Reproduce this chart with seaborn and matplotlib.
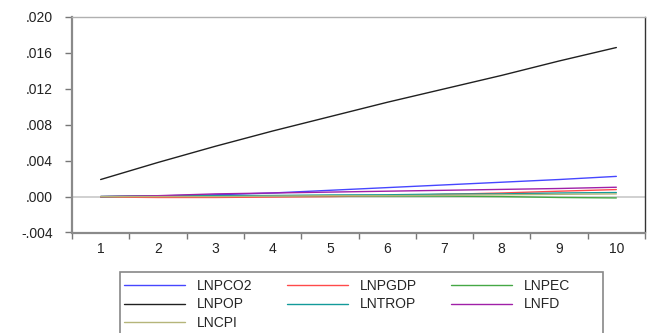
import pandas as pd
import numpy as np
from matplotlib import pyplot as plt
from matplotlib.ticker import FuncFormatter, FixedLocator
from matplotlib.patches import Rectangle
import seaborn as sns

periods = list(range(1, 11))

lnpco2 = [0.0, 0.00008, 0.0002, 0.0004, 0.0007, 0.0010, 0.0013, 0.0016, 0.0019, 0.00225]
lnpgdp = [-0.00005, -0.0001, -0.0001, -0.00005, 0.0, 0.0001, 0.00025, 0.0004, 0.0006, 0.00078]
lnpec = [0.0, 0.00005, 0.0001, 0.0001, 0.0001, 0.00005, 0.00005, 0.0, -0.0001, -0.00015]
lnpop = [0.0019, 0.0038, 0.0056, 0.0073, 0.0089, 0.0105, 0.0120, 0.0135, 0.0151, 0.0166]
lntrop = [0.0, 0.00008, 0.0001, 0.00012, 0.00018, 0.0002, 0.00028, 0.0003, 0.0004, 0.00045]
lnfd = [0.0, 0.0001, 0.0003, 0.0004, 0.0005, 0.0006, 0.0007, 0.0008, 0.0009, 0.00104]
lncpi = [0.0, 0.0, 0.0, 0.00005, 0.0001, 0.0001, 0.00015, 0.0002, 0.00025, 0.0003]

series = {'LNPCO2': lnpco2, 'LNPGDP': lnpgdp, 'LNPEC': lnpec, 'LNPOP': lnpop,
          'LNTROP': lntrop, 'LNFD': lnfd, 'LNCPI': lncpi}
colors = {'LNPCO2': '#4646ff', 'LNPGDP': '#ff4a4a', 'LNPEC': '#45a845', 'LNPOP': '#202020',
          'LNTROP': '#139a9a', 'LNFD': '#a020a8', 'LNCPI': '#b5b57a'}

rows = []
for name, vals in series.items():
    for p, v in zip(periods, vals):
        rows.append((p, v, name))
data_plot = pd.DataFrame(rows, columns=['period', 'value', 'var'])

sns.set_style('white')
plt.rcParams['font.family'] = ['Liberation Sans', 'DejaVu Sans']

fig = plt.figure(figsize=(6.51, 3.33), dpi=100)
ax = fig.add_axes([72 / 651, 1 - 232.5 / 333, (645 - 72) / 651, (232.5 - 17) / 333])

ax.axhline(0, color='#c8c8c8', lw=1.2, zorder=0)
sns.lineplot(data=data_plot, x='period', y='value', hue='var', palette=colors,
             hue_order=list(series.keys()), lw=1.0, ax=ax)

ax.set_xlim(0.5, 10.5)
ax.set_ylim(-0.004, 0.020)
ax.set_yticks(np.arange(-0.004, 0.0201, 0.004))
ax.yaxis.set_major_formatter(FuncFormatter(lambda v, p: ('%.3f' % v).replace('0.', '.', 1)
                                           if abs(v) > 1e-9 else '.000'))
ax.set_xticks(periods)
ax.xaxis.set_minor_locator(FixedLocator(np.arange(0.5, 10.6, 1)))
ax.tick_params(axis='x', which='major', bottom=True, length=0, labelsize=10, pad=7,
               labelcolor='#222222')
ax.tick_params(axis='x', which='minor', bottom=True, length=4, width=1, color='#777777',
               direction='out')
ax.tick_params(axis='y', which='major', left=True, length=5, width=1, color='#777777',
               direction='out', labelsize=10, pad=9, labelcolor='#222222')
ax.set_xlabel('')
ax.set_ylabel('')

ax.spines['left'].set_color('#8a8a8a')
ax.spines['left'].set_linewidth(1.6)
ax.spines['bottom'].set_color('#8a8a8a')
ax.spines['bottom'].set_linewidth(1.6)
ax.spines['top'].set_color('#b0b0b0')
ax.spines['top'].set_linewidth(1.0)
ax.spines['right'].set_color('#333333')
ax.spines['right'].set_linewidth(1.0)

handles, labels = ax.get_legend_handles_labels()
ax.get_legend().remove()
hmap = dict(zip(labels, handles))
order = ['LNPCO2', 'LNPOP', 'LNCPI', 'LNPGDP', 'LNTROP', 'LNPEC', 'LNFD']
leg = fig.legend([hmap[k] for k in order], order, ncol=3, loc='upper left',
                 bbox_to_anchor=(124 / 651, 1 - 279 / 333), borderaxespad=0,
                 fontsize=10, handlelength=4.4, handletextpad=0.86, columnspacing=2.45,
                 labelspacing=0.32, frameon=False, borderpad=0)

# legend frame (runs past the bottom edge like the original)
fig.patches.append(Rectangle((120 / 651, -0.05), (603 - 120) / 651, 0.05 + (333 - 272) / 333,
                             transform=fig.transFigure, fill=False, edgecolor='#888888',
                             lw=1.2))

fig.savefig('out.png', dpi=100)
